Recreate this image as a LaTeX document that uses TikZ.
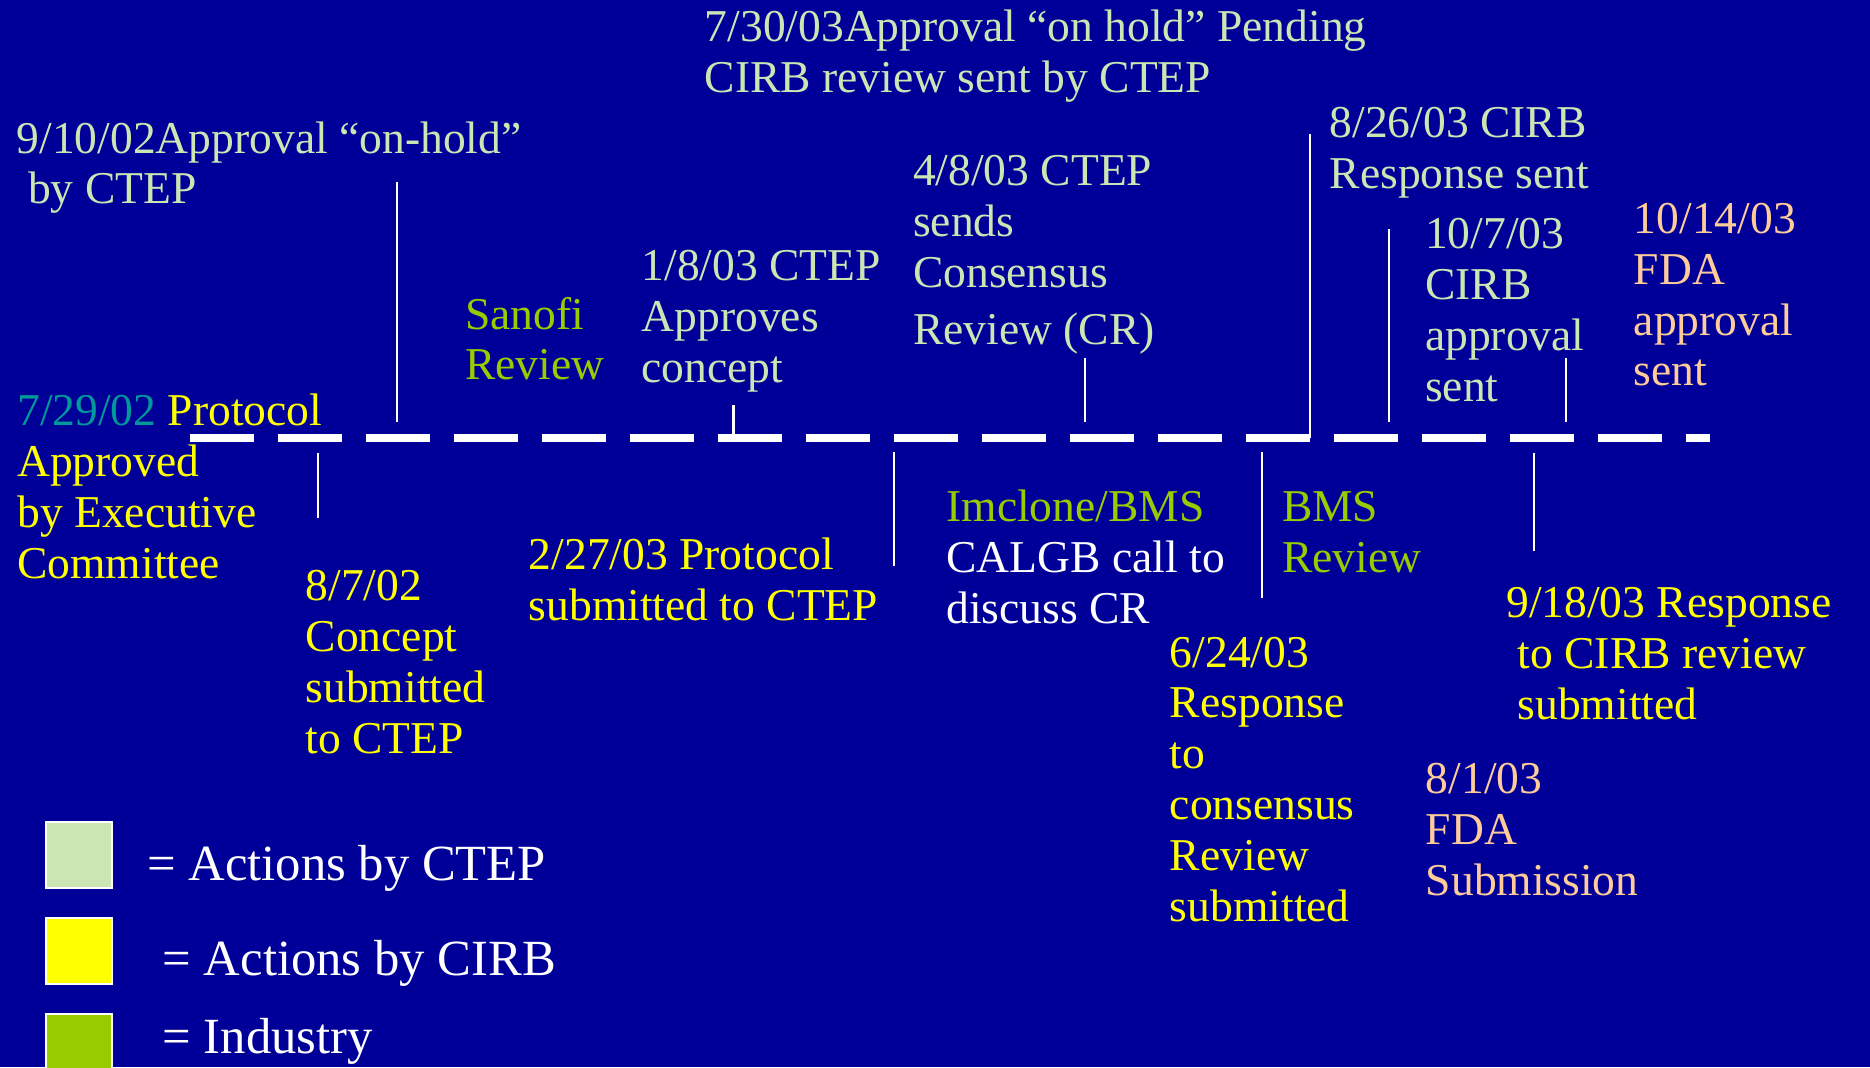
\documentclass[tikz,border=0pt]{standalone}
\usepackage{fontspec}
\setmainfont{Liberation Serif}
\definecolor{bgblue}{RGB}{0,0,153}
\definecolor{ctep}{RGB}{204,230,179}
\definecolor{cirb}{RGB}{255,255,0}
\definecolor{industry}{RGB}{153,204,0}
\definecolor{execteal}{RGB}{0,153,153}
\definecolor{fda}{RGB}{255,204,153}
% every event label is anchored at the baseline of its last line
\tikzset{
  evt/.style={anchor=base west, inner sep=0pt, outer sep=0pt, align=left,
    font=\fontsize{19.1}{21.35}\selectfont},
  ctepevt/.style={evt, text=ctep},
  cirbevt/.style={evt, text=cirb},
  indevt/.style={evt, text=industry},
  fdaevt/.style={evt, text=fda},
  callevt/.style={evt, text=white},
  vline/.style={draw=white, line width=0.9pt},
  timeline/.style={draw=white, line width=3.2pt, dash pattern=on 26.83pt off 10.06pt},
  legbox/.style={draw=white, line width=0.85pt, minimum size=27.5pt, inner sep=0pt, anchor=north west},
  legtext/.style={anchor=base west, inner sep=0pt, text=white, font=\fontsize{21.25}{25}\selectfont}
}
\begin{document}
\begin{tikzpicture}[x=0.5pt,y=-0.5pt]
\useasboundingbox (0,0) rectangle (1568,895);
\clip (0,0) rectangle (1568,895);
\fill[bgblue] (0,0) rectangle (1568,895);

% timeline
\coordinate (tlstart) at (159.3,367);
\coordinate (tlend) at (1434,367);
\draw[timeline] (tlstart) -- (tlend);

% events above the line
\node[ctepevt] (e0730) at (591,77.7) {7/30/03Approval “on hold” Pending\\CIRB review sent by CTEP};
\node[ctepevt] (e0910) at (14,171) {9/10/02Approval “on-hold”\\\hspace*{0.25em}by CTEP};
\node[ctepevt] (e0826) at (1115,157.8) {8/26/03 CIRB\\Response sent};
\node[ctepevt] (e0408) at (765.6,288.5) {4/8/03 CTEP\\sends\\Consensus\\[2.4pt]Review (CR)};
\node[ctepevt] (e0108) at (538,321) {1/8/03 CTEP\\Approves\\concept};
\node[indevt] (sanofi) at (390,318.6) {Sanofi\\Review};
\node[ctepevt] (e1007) at (1195,336.8) {10/7/03\\CIRB\\approval\\sent};
\node[fdaevt] (e1014) at (1370,323.6) {10/14/03\\FDA\\approval\\sent};
\node[cirbevt] (e0729) at (14.5,484.7) {{\color{execteal}7/29/02} Protocol\\Approved\\by Executive\\Committee};

% events below the line
\node[cirbevt] (e0807) at (256.3,632) {8/7/02\\Concept\\submitted\\to CTEP};
\node[cirbevt] (e0227) at (443.4,520) {2/27/03 Protocol\\submitted to CTEP};
\node[callevt] (imclone) at (793.6,522.6) {{\color{industry}Imclone/BMS}\\CALGB call to\\discuss CR};
\node[indevt] (bms) at (1075,480) {BMS\\Review};
\node[cirbevt] (e0918) at (1263,603) {9/18/03 Response\\\hspace*{0.25em}to CIRB review\\\hspace*{0.25em}submitted};
\node[cirbevt] (e0624) at (981,772.8) {6/24/03\\Response\\to\\consensus\\Review\\submitted};
\node[fdaevt] (e0801) at (1195.6,750.5) {8/1/03\\FDA\\Submission};

% marker lines above
\coordinate (a1t) at (333,153);    \coordinate (a1b) at (333,354);
\coordinate (a2t) at (615,340);    \coordinate (a2b) at (615,364);
\coordinate (a3t) at (910,300);    \coordinate (a3b) at (910,354);
\coordinate (a4t) at (1098.5,112); \coordinate (a4b) at (1098.5,367);
\coordinate (a5t) at (1165,192);   \coordinate (a5b) at (1165,354);
\coordinate (a6t) at (1313,300);   \coordinate (a6b) at (1313,354);
\foreach \m in {a1,a2,a3,a4,a5,a6} \draw[vline] (\m t) -- (\m b);

% marker lines below
\coordinate (b1t) at (266.5,380);  \coordinate (b1b) at (266.5,434.5);
\coordinate (b2t) at (749.5,379);  \coordinate (b2b) at (749.5,475);
\coordinate (b3t) at (1058,379);   \coordinate (b3b) at (1058,501);
\coordinate (b4t) at (1286,380);   \coordinate (b4b) at (1286,462);
\foreach \m in {b1,b2,b3,b4} \draw[vline] (\m t) -- (\m b);

% legend
\node[legbox, fill=ctep] (kctep) at (37.8,688.5) {};
\node[legbox, fill=cirb] (kcirb) at (37.8,769) {};
\node[legbox, fill=industry] (kind) at (37.8,849.6) {};
\node[legtext] (lctep) at (123,738) {= Actions by CTEP};
\node[legtext] (lcirb) at (136,818) {= Actions by CIRB};
\node[legtext] (lind) at (136,883) {= Industry};
\end{tikzpicture}
\end{document}
